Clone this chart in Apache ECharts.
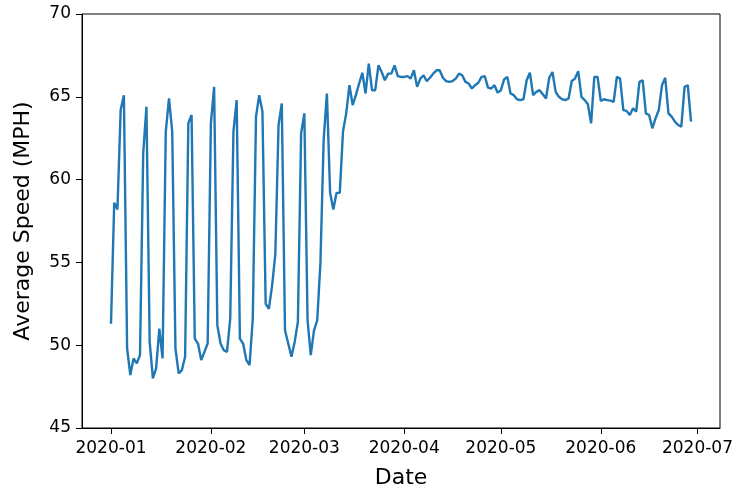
<!DOCTYPE html>
<html>
<head>
<meta charset="utf-8">
<script src="https://cdn.jsdelivr.net/npm/echarts@6/dist/echarts.min.js"></script>
<style>
html,body{margin:0;padding:0;background:#fff;}
#chart{width:735px;height:488px;}
</style>
</head>
<body>
<div id="chart"></div>
<script>
// Daily average speed (MPH), 2020-01-01 .. 2020-06-29
const startDate = '2020-01-01';
const janSpeeds = [51.3,58.6,58.2,64.2,65.1,49.8,48.2,49.2,48.9,49.4,61.6,64.4,50.2,48.0,48.6,51.0,49.2,62.9,64.9,62.9,49.8,48.3,48.5,49.3,63.4,63.9,50.4,50.1,49.1,49.6,50.1];
const febSpeeds = [63.4,65.6,51.2,50.1,49.7,49.6,51.6,62.9,64.8,50.4,50.1,49.1,48.8,51.6,63.8,65.1,64.1,52.5,52.2,53.6,55.5,63.3,64.6,50.9,50.1,49.3,50.2,51.4,62.8];
const marSpeeds = [64.0,51.5,49.4,50.9,51.5,55.0,62.4,65.2,59.2,58.2,59.2,59.2,62.9,64.0,65.7,64.5,65.1,65.8,66.45,65.2,67.0,65.4,65.4,66.9,66.5,66.0,66.4,66.4,66.9,66.25,66.2];
const aprSpeeds = [66.2,66.25,66.1,66.6,65.6,66.1,66.3,65.95,66.15,66.4,66.6,66.6,66.15,65.95,65.9,65.95,66.1,66.4,66.3,65.9,65.8,65.5,65.7,65.85,66.2,66.25,65.55,65.5,65.7,65.25];
const maySpeeds = [65.4,66.05,66.2,65.2,65.1,64.85,64.8,64.85,66.0,66.45,65.1,65.3,65.4,65.15,64.9,66.15,66.5,65.3,65.0,64.85,64.8,64.9,65.95,66.1,66.55,65.0,64.8,64.55,63.4,66.2,66.2];
const junSpeeds = [64.75,64.85,64.8,64.77,64.7,66.2,66.1,64.2,64.15,63.9,64.3,64.1,65.9,66.0,64.0,63.9,63.1,63.7,64.2,65.7,66.15,64.0,63.8,63.5,63.3,63.2,65.6,65.7,63.5];

const xTickLabels = ['2020-01','2020-02','2020-03','2020-04','2020-05','2020-06','2020-07'];
const yTickValues = [45,50,55,60,65,70];

const speeds = [].concat(janSpeeds, febSpeeds, marSpeeds, aprSpeeds, maySpeeds, junSpeeds);
const DAY = 86400000;
const t0 = Date.parse(startDate + 'T00:00:00Z');
const seriesData = speeds.map((v, i) => [t0 + i * DAY, v]);
const tickTs = xTickLabels.map(s => Date.parse(s + '-01T00:00:00Z'));
const lastTs = t0 + (speeds.length - 1) * DAY;
const pad = 9 * DAY;

const font = 'DejaVu Sans';
const chart = echarts.init(document.getElementById('chart'), null, {renderer: 'canvas'});
chart.setOption({
  animation: false,
  backgroundColor: '#fff',
  grid: {left: 82, right: 15, top: 14, bottom: 60, containLabel: false, outerBoundsMode: 'none',
         show: true, borderColor: '#000', borderWidth: 1, backgroundColor: 'transparent'},
  xAxis: {
    type: 'value',
    min: t0 - pad,
    max: lastTs + pad,
    name: 'Date',
    nameLocation: 'middle',
    nameGap: 39,
    nameTextStyle: {fontFamily: font, fontSize: 22, color: '#000'},
    axisLine: {show: true, onZero: false, lineStyle: {color: '#000', width: 1}},
    axisTick: {show: true, inside: false, length: 6, customValues: tickTs, lineStyle: {color: '#000'}},
    axisLabel: {
      show: true, margin: 12, customValues: tickTs,
      fontFamily: font, fontSize: 17, color: '#000',
      formatter: function (v) {
        const i = tickTs.indexOf(v);
        return i >= 0 ? xTickLabels[i] : '';
      }
    },
    splitLine: {show: false}
  },
  yAxis: {
    type: 'value',
    min: yTickValues[0],
    max: yTickValues[yTickValues.length - 1],
    interval: 5,
    name: 'Average Speed (MPH)',
    nameLocation: 'middle',
    nameGap: 48,
    nameTextStyle: {fontFamily: font, fontSize: 22, color: '#000'},
    axisLine: {show: true, lineStyle: {color: '#000', width: 1}},
    axisTick: {show: true, inside: false, length: 6, lineStyle: {color: '#000'}},
    axisLabel: {show: true, margin: 11, fontFamily: font, fontSize: 17, color: '#000'},
    splitLine: {show: false}
  },
  series: [{
    type: 'line',
    data: seriesData,
    showSymbol: false,
    smooth: false,
    lineStyle: {color: '#1f77b4', width: 2.4},
    itemStyle: {color: '#1f77b4'}
  }]
});
</script>
</body>
</html>
